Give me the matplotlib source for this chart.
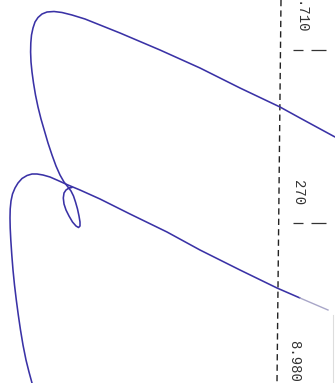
import matplotlib
matplotlib.use('Agg')
import matplotlib.pyplot as plt

# traced curves (scan is rotated: horizontal = value, vertical = step)
upper_x = [335, 300, 280, 240, 200, 160, 120, 100, 85, 72, 62, 54, 47, 42, 38, 35, 33, 31.5, 30.8, 30.6, 31, 32,
           33.5, 35.5, 38, 41, 44.5, 48, 52, 56, 60, 64, 68,
           71, 73.5, 75.5, 77.5, 79, 80, 80, 78.5, 76, 72.5, 69, 66, 64, 63.3, 64, 66, 69, 72]
upper_y = [137, 118, 107, 88, 68, 50, 33, 25, 19, 15, 12.5, 11.5, 12, 14, 17.5, 22, 28, 35, 43, 52, 62, 72,
           83, 95, 107, 119, 131, 143, 155, 166, 175, 182, 187,
           191, 196, 202, 209, 216, 222, 226, 227.5, 226, 222, 216, 210, 204, 198, 193, 190, 188, 187.5]

lower_x = [300, 277, 240, 200, 167, 130, 100, 80, 68, 58, 50, 43, 37, 32, 27, 22, 18, 15, 12.5, 11, 10.2, 10,
           10.2, 10.8, 11.8, 13, 14.5, 16.3, 18.3, 20.5, 23, 26, 29, 32]
lower_y = [298, 288, 270, 250, 232, 214, 199, 190, 185, 180.5, 177, 175, 174, 174, 175.5, 178.5, 183, 188, 194, 201, 209, 218,
           228, 240, 255, 270, 285, 300, 315, 330, 345, 360, 372, 383]
tail_x = [328, 300]
tail_y = [310, 298]

dash_x = [281, 277]
dash_y = [0, 383]

tick_pos = [50, 223]
tick_labels = ['.710', '270', '8.980']
label_x = [300, 298, 294]
label_y = [1, 180, 340]

fig = plt.figure(figsize=(3.35, 3.83), dpi=100)
ax = fig.add_axes([0, 0, 1, 1])
ax.set_xlim(0, 335)
ax.set_ylim(383, 0)
ax.axis('off')

ax.plot(dash_x, dash_y, color='#222222', lw=1.0, linestyle=(0, (4.5, 3)))
ax.plot(upper_x, upper_y, color='#3a32a6', lw=1.15, solid_capstyle='round', solid_joinstyle='round')
ax.plot(lower_x, lower_y, color='#3a32a6', lw=1.15, solid_capstyle='round', solid_joinstyle='round')
ax.plot(tail_x, tail_y, color='#a8a6c8', lw=1.0)
ax.plot([333, 333], [315, 383], color='#dddddd', lw=0.8)

ax.hlines(tick_pos, 293, 303, color='#333333', lw=0.9)
ax.hlines(tick_pos, 311, 326, color='#333333', lw=0.9)

for txt, x, y in zip(tick_labels, label_x, label_y):
    ax.text(x, y, txt, rotation=-90, ha='center', va='top', fontsize=10,
            family='Liberation Mono', color='#333333')

fig.savefig('out.png', dpi=100)
